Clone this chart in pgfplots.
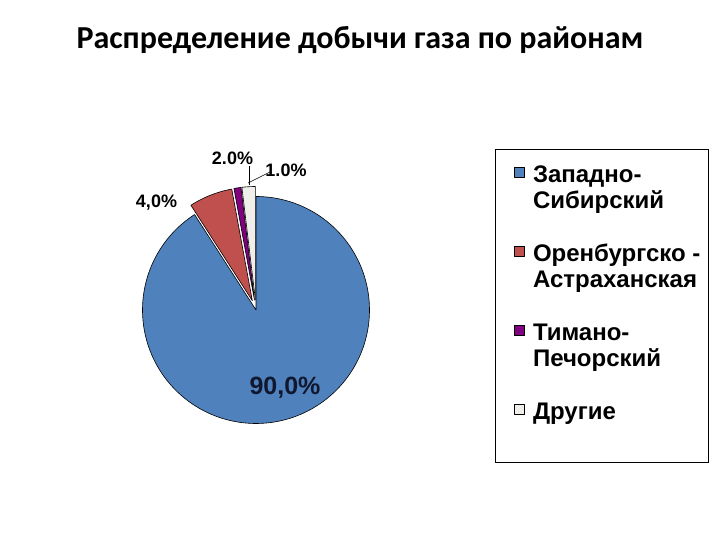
\documentclass[border=0pt]{standalone}
\usepackage{fontspec}
\setmainfont{Liberation Sans}
\newfontfamily\titlefont{Carlito}
\usepackage{pgfplots}
\pgfplotsset{compat=1.18}
\definecolor{sliceA}{HTML}{4F81BD}
\definecolor{sliceB}{HTML}{C0504D}
\definecolor{sliceC}{HTML}{800080}
\definecolor{sliceD}{HTML}{F0EEEA}
\definecolor{navy}{HTML}{101830}
% shares (percent)
\def\vA{90.9}\def\vB{6.2}\def\vC{1.0}\def\vD{1.9}
\def\cx{256}\def\cy{230}\def\r{113.5}\def\ex{10}
\pgfmathsetmacro\aA{90-3.6*\vA}
\pgfmathsetmacro\aB{\aA-3.6*\vB}
\pgfmathsetmacro\aC{\aB-3.6*\vC}
\pgfmathsetmacro\aD{\aC-3.6*\vD}
\pgfmathsetmacro\mB{(\aA+\aB)/2}
\pgfmathsetmacro\mC{(\aB+\aC)/2}
\pgfmathsetmacro\mD{(\aC+\aD)/2}
\pgfmathsetmacro\xB{\cx+\ex*cos(\mB)}\pgfmathsetmacro\yB{\cy+\ex*sin(\mB)}
\pgfmathsetmacro\xC{\cx+\ex*cos(\mC)}\pgfmathsetmacro\yC{\cy+\ex*sin(\mC)}
\pgfmathsetmacro\xD{\cx+\ex*cos(\mD)}\pgfmathsetmacro\yD{\cy+\ex*sin(\mD)}
\begin{document}
\begin{tikzpicture}
\begin{axis}[
  scale only axis, width=720pt, height=540pt,
  xmin=0, xmax=720, ymin=0, ymax=540,
  hide axis, clip=false,
  legend image code/.code={\path (0pt,0pt) (37pt,0pt); \draw[#1, line width=0.5pt, draw=black] (19pt,5pt) rectangle (29pt,15pt);},
  legend style={at={(0.6875,0.7241)}, anchor=north west, draw=black, line width=0.8pt, fill=white,
    inner xsep=0pt, inner ysep=13pt, row sep=29pt, column sep=0pt,
    font=\fontsize{24}{26.5}\selectfont\bfseries,
    nodes={inner sep=0pt, text height=20pt, text depth=30pt},
    cells={anchor=base west}},
]
\path (0,0) rectangle (720,540);
\addplot[fill=sliceA, draw=black, line width=0.6pt, line join=round, domain=\aA:90, samples=180, variable=\t]
  ({\cx+\r*cos(\t)},{\cy+\r*sin(\t)}) -- (\cx,\cy) -- cycle;
\addlegendentry{\begin{tabular}[t]{@{}l@{\hspace{8pt}}}Западно-\\Сибирский\end{tabular}}
\addplot[fill=sliceB, draw=black, line width=0.6pt, line join=round, domain=\aB:\aA, samples=20, variable=\t]
  ({\xB+\r*cos(\t)},{\yB+\r*sin(\t)}) -- (\xB,\yB) -- cycle;
\addlegendentry{\begin{tabular}[t]{@{}l@{\hspace{8pt}}}Оренбургско -\\Астраханская\end{tabular}}
\addplot[fill=sliceC, draw=black, line width=0.6pt, line join=round, domain=\aC:\aB, samples=6, variable=\t]
  ({\xC+\r*cos(\t)},{\yC+\r*sin(\t)}) -- (\xC,\yC) -- cycle;
\addlegendentry{\begin{tabular}[t]{@{}l@{\hspace{8pt}}}Тимано-\\Печорский\end{tabular}}
\addplot[fill=sliceD, draw=black, line width=0.6pt, line join=round, domain=\aD:\aC, samples=8, variable=\t]
  ({\xD+\r*cos(\t)},{\yD+\r*sin(\t)}) -- (\xD,\yD) -- cycle;
\addlegendentry{\begin{tabular}[t]{@{}l@{\hspace{8pt}}}Другие\end{tabular}}
% title
\node[anchor=base, font=\titlefont\bfseries\fontsize{32}{38}\selectfont] at (360,491.7) {Распределение добычи газа по районам};
% data labels
\draw[black, line width=0.6pt] (249,374) -- (249,355);
\draw[black, line width=0.6pt] (270,368) -- (248,357);
\node[anchor=base, font=\bfseries\fontsize{18}{21}\selectfont] at (232.5,375) {2.0\%};
\node[anchor=base, font=\bfseries\fontsize{18}{21}\selectfont] at (286,363.3) {1.0\%};
\node[anchor=base, font=\bfseries\fontsize{18}{21}\selectfont] at (156.5,332) {4,0\%};
\node[anchor=base, font=\bfseries\fontsize{25}{30}\selectfont, text=navy] at (285,145) {90,0\%};
\end{axis}
\end{tikzpicture}
\end{document}
